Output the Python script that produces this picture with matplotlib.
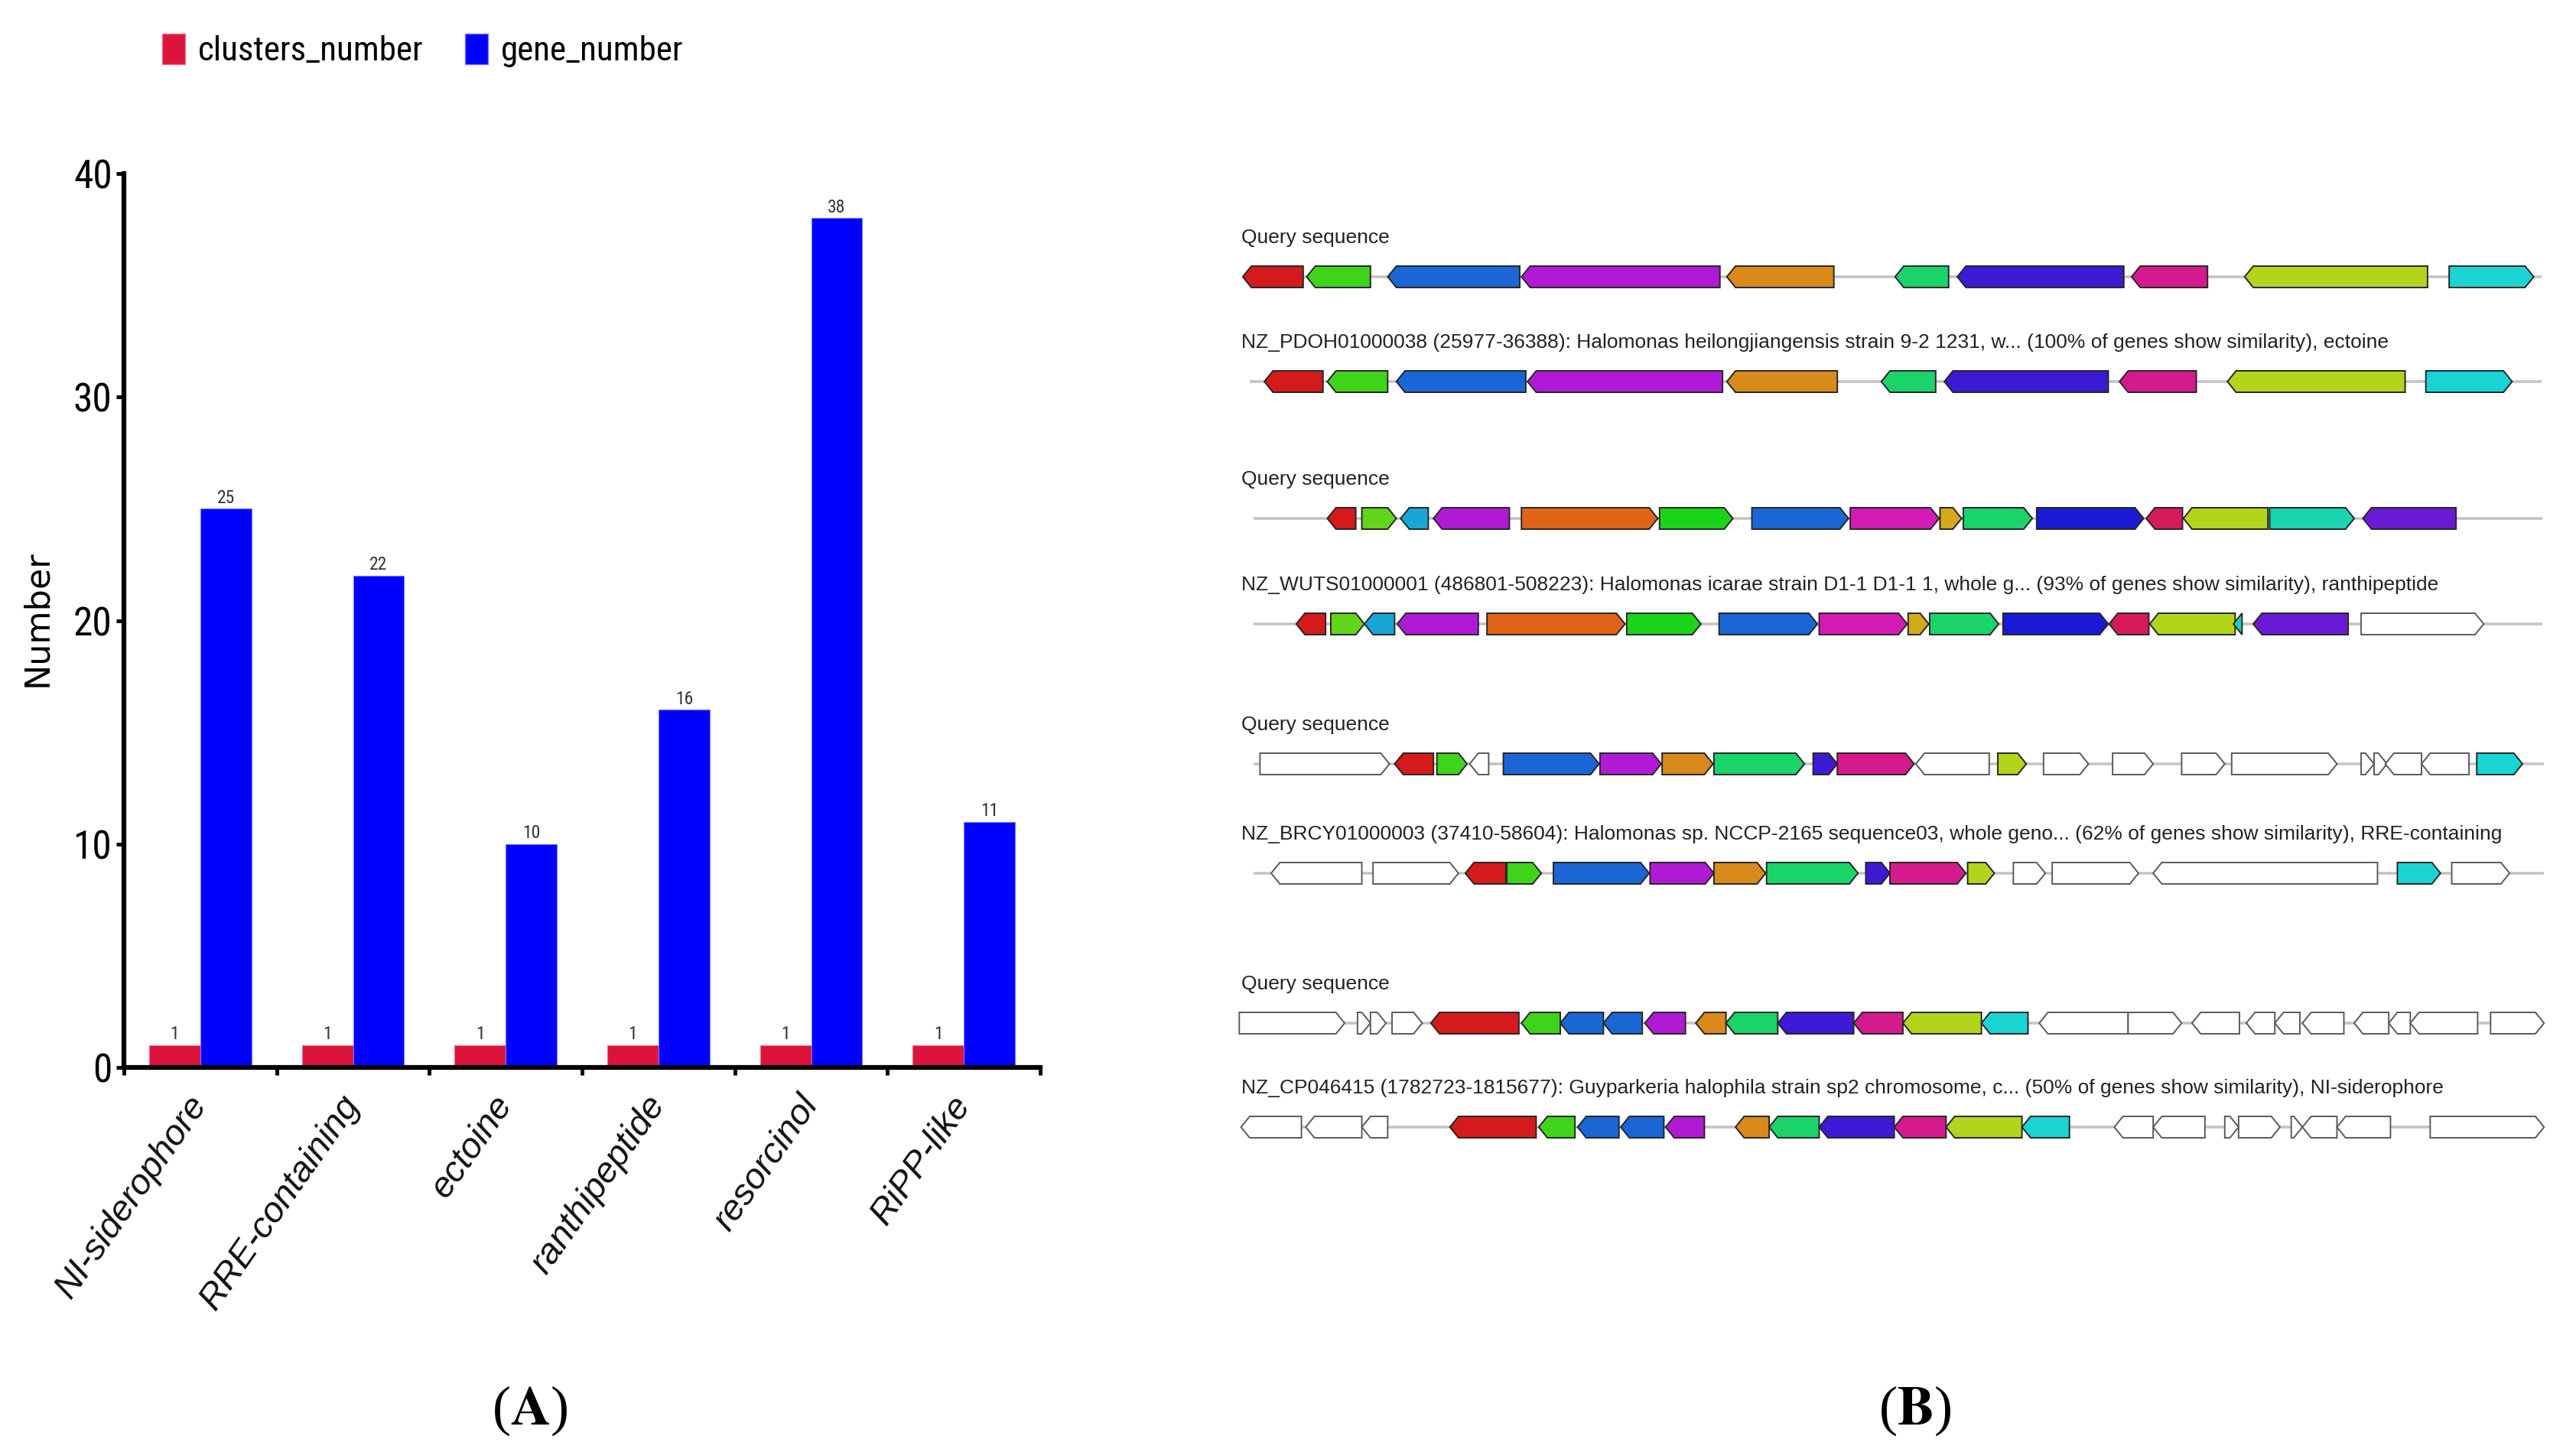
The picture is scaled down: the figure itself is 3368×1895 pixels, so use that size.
import matplotlib
matplotlib.use("Agg")
import matplotlib.pyplot as plt
import numpy as np
from matplotlib.patches import Polygon, Patch
from matplotlib import font_manager
from matplotlib.font_manager import FontProperties

""" Panel A data """
categories = ["NI-siderophore", "RRE-containing", "ectoine", "ranthipeptide", "resorcinol", "RiPP-like"]
clusters_number = [1, 1, 1, 1, 1, 1]
gene_number = [25, 22, 10, 16, 38, 11]

""" Panel B data: (start, end, strand, homology group) along each track, '-' = no hit """
titles = [
    "Query sequence",
    "NZ_PDOH01000038 (25977-36388): Halomonas heilongjiangensis strain 9-2 1231, w... (100% of genes show similarity), ectoine",
    "Query sequence",
    "NZ_WUTS01000001 (486801-508223): Halomonas icarae strain D1-1 D1-1 1, whole g... (93% of genes show similarity), ranthipeptide",
    "Query sequence",
    "NZ_BRCY01000003 (37410-58604): Halomonas sp. NCCP-2165 sequence03, whole geno... (62% of genes show similarity), RRE-containing",
    "Query sequence",
    "NZ_CP046415 (1782723-1815677): Guyparkeria halophila strain sp2 chromosome, c... (50% of genes show similarity), NI-siderophore",
]
spans = [(22, 1527), (30, 1527), (35, 1528), (35, 1528), (35, 1530), (35, 1530), (18, 1530), (20, 1530)]

query_ectoine = [(22, 92, -1, 'A'), (96, 170, -1, 'B'), (190, 343, -1, 'C'), (345, 575, -1, 'D'),
                 (583, 707, -1, 'E'), (778, 840, -1, 'F'), (850, 1043, -1, 'G'), (1052, 1140, -1, 'H'),
                 (1183, 1395, -1, 'I'), (1420, 1518, 1, 'J')]
hit_ectoine = [(47, 115, -1, 'A'), (120, 190, -1, 'B'), (200, 350, -1, 'C'), (352, 578, -1, 'D'),
               (583, 711, -1, 'E'), (762, 825, -1, 'F'), (835, 1025, -1, 'G'), (1038, 1127, -1, 'H'),
               (1163, 1369, -1, 'I'), (1393, 1493, 1, 'J')]
query_ranthi = [(120, 153, -1, 'A'), (160, 200, 1, 'L'), (205, 237, -1, 'M'), (243, 331, -1, 'D'),
                (345, 503, 1, 'O'), (505, 590, 1, 'P'), (612, 724, 1, 'C'), (726, 829, 1, 'R'),
                (830, 855, 1, 'S'), (857, 937, 1, 'F'), (942, 1066, 1, 'U'), (1069, 1111, -1, 'V'),
                (1112, 1210, -1, 'I'), (1212, 1310, 1, 'X'), (1320, 1428, -1, 'Y')]
hit_ranthi = [(84, 118, -1, 'A'), (124, 163, 1, 'L'), (163, 198, -1, 'M'), (201, 295, -1, 'D'),
              (305, 465, 1, 'O'), (467, 553, 1, 'P'), (574, 688, 1, 'C'), (690, 792, 1, 'R'),
              (793, 817, 1, 'S'), (818, 898, 1, 'F'), (903, 1025, 1, 'U'), (1026, 1072, -1, 'V'),
              (1073, 1172, -1, 'I'), (1170, 1180, -1, 'X'), (1193, 1303, -1, 'Y'), (1318, 1460, 1, '-')]
query_rre = [(42, 192, 1, '-'), (198, 243, -1, 'A'), (247, 282, 1, 'B'), (285, 307, -1, '-'),
             (324, 435, 1, 'C'), (436, 507, 1, 'D'), (508, 567, 1, 'E'), (568, 673, 1, 'F'),
             (683, 711, 1, 'G'), (711, 800, 1, 'H'), (802, 887, -1, '-'), (897, 930, 1, 'I'),
             (950, 1002, 1, '-'), (1030, 1077, 1, '-'), (1110, 1160, 1, '-'), (1168, 1290, 1, '-'),
             (1318, 1333, 1, '-'), (1333, 1348, 1, '-'), (1346, 1388, -1, '-'), (1388, 1443, -1, '-'),
             (1452, 1505, 1, 'J')]
hit_rre = [(55, 160, -1, '-'), (173, 272, 1, '-'), (280, 327, -1, 'A'), (328, 368, 1, 'B'),
           (382, 493, 1, 'C'), (494, 568, 1, 'D'), (568, 628, 1, 'E'), (629, 735, 1, 'F'),
           (744, 772, 1, 'G'), (772, 860, 1, 'H'), (862, 893, 1, 'I'), (915, 952, 1, '-'),
           (960, 1060, 1, '-'), (1077, 1337, -1, '-'), (1360, 1410, 1, 'J'), (1423, 1490, 1, '-')]
query_nis = [(18, 140, 1, '-'), (155, 170, 1, '-'), (170, 188, 1, '-'), (195, 230, 1, '-'),
             (240, 342, -1, 'A'), (345, 390, -1, 'B'), (390, 440, -1, 'C'), (440, 485, -1, 'C'),
             (488, 535, -1, 'D'), (547, 582, -1, 'E'), (582, 642, -1, 'F'), (642, 730, -1, 'G'),
             (730, 787, -1, 'H'), (787, 878, -1, 'I'), (878, 932, -1, 'J'), (945, 1048, -1, '-'),
             (1048, 1110, 1, '-'), (1122, 1177, -1, '-'), (1185, 1218, -1, '-'), (1218, 1247, -1, '-'),
             (1250, 1298, -1, '-'), (1310, 1350, -1, '-'), (1350, 1375, -1, '-'), (1375, 1453, -1, '-'),
             (1468, 1530, 1, '-')]
hit_nis = [(20, 90, -1, '-'), (95, 160, -1, '-'), (160, 190, -1, '-'), (262, 362, -1, 'A'),
           (365, 407, -1, 'B'), (410, 458, -1, 'C'), (460, 510, -1, 'C'), (512, 557, -1, 'D'),
           (593, 632, -1, 'E'), (632, 690, -1, 'F'), (690, 777, -1, 'G'), (777, 837, -1, 'H'),
           (837, 925, -1, 'I'), (925, 980, -1, 'J'), (1032, 1077, -1, '-'), (1077, 1137, -1, '-'),
           (1160, 1176, 1, '-'), (1176, 1224, 1, '-'), (1237, 1250, 1, '-'), (1250, 1290, -1, '-'),
           (1290, 1352, -1, '-'), (1398, 1530, 1, '-')]
tracks = [query_ectoine, hit_ectoine, query_ranthi, hit_ranthi, query_rre, hit_rre, query_nis, hit_nis]

""" Styles """
group_colours = {
    'A': '#d41a1a', 'B': '#3fd41a', 'C': '#1a66d4', 'D': '#b01ad4', 'E': '#d98a1a',
    'F': '#1ad46a', 'G': '#3d1ad4', 'H': '#d41a8c', 'I': '#b2d41a', 'J': '#1ad4d4',
    'L': '#62d41a', 'M': '#1aa6d4', 'O': '#df6418', 'P': '#1ad41a', 'R': '#d41ab4',
    'S': '#d4a81a', 'U': '#1a1ad4', 'V': '#d41a5a', 'X': '#1ad4b0', 'Y': '#6a1ad4',
    '-': '#ffffff',
}


def pick_narrow():
    fonts = font_manager.fontManager.ttflist
    names = {f.name for f in fonts}
    for fam in ['Liberation Sans Narrow', 'Roboto Condensed', 'Open Sans Condensed',
                'DejaVu Sans Condensed', 'Noto Sans Condensed', 'Arial Narrow']:
        if fam in names:
            return {'family': fam}, 1.0
    for f in fonts:
        if f.style == 'normal' and 'condensed' in str(f.stretch) and f.name in (
                'DejaVu Sans', 'Noto Sans', 'Roboto', 'Open Sans', 'Liberation Sans', 'Inter', 'Lato'):
            return {'family': f.name, 'stretch': f.stretch}, 1.0
    return {'family': 'Liberation Sans'}, 0.86


narrow_kw, narrow_scale = pick_narrow()


def narrow(size):
    return FontProperties(size=size * narrow_scale, **narrow_kw)


plt.rcParams['mathtext.fontset'] = 'stix'

W, H = 3368, 1895
figure = plt.figure(figsize=(W / 100, H / 100), dpi=100)

""" Panel A """
axis_a = figure.add_axes([162 / W, 1 - 1396 / H, (1360 - 162) / W, (1396 - 227) / H])
x = np.arange(len(categories))
bw = 0.335
bars_c = axis_a.bar(x - bw / 2, clusters_number, bw, color='#dc143c', edgecolor='#ee7088', linewidth=0.8)
bars_g = axis_a.bar(x + bw / 2, gene_number, bw, color='#0000ff', edgecolor='#7878ff', linewidth=0.8)
for bars in (bars_c, bars_g):
    axis_a.bar_label(bars, padding=2, color='#333333', fontproperties=narrow(17))

axis_a.set_xlim(-0.5, 5.5)
axis_a.set_ylim(0, 40)
for side in ('top', 'right'):
    axis_a.spines[side].set_visible(False)
for side in ('left', 'bottom'):
    axis_a.spines[side].set_linewidth(4.5)
axis_a.set_yticks([0, 10, 20, 30, 40])
axis_a.tick_params(axis='y', length=7, width=3.5, pad=4)
for lab in axis_a.get_yticklabels():
    lab.set_fontproperties(narrow(37))
axis_a.set_xticks(x)
axis_a.set_xticklabels(categories, rotation=55, ha='right', va='center', rotation_mode='anchor',
                       fontstyle='italic', fontsize=34, family='Liberation Sans', color='#111111')
axis_a.tick_params(axis='x', which='major', length=0, pad=30)
axis_a.set_xticks(np.arange(-0.5, 6, 1), minor=True)
axis_a.tick_params(axis='x', which='minor', length=7, width=3.5, direction='out')

figure.text(49 / W, 1 - 809 / H, "Number", rotation=90, ha='center', va='center',
            fontsize=32, family='DejaVu Sans')

handles = [Patch(facecolor='#dc143c', edgecolor='#ee7088'), Patch(facecolor='#0000ff', edgecolor='#7878ff')]
leg = figure.legend(handles, ["clusters_number", "gene_number"], loc='center left',
                    bbox_to_anchor=(212 / W, 1 - 66 / H), ncol=2, frameon=False,
                    borderpad=0, borderaxespad=0, handlelength=0.66, handleheight=1.0,
                    handletextpad=0.38, columnspacing=1.2, prop=narrow(32.5))

figure.text(693 / W, 1 - 1845 / H, r"($\mathbf{A}$)", ha='center', va='center',
            fontsize=52, family='Liberation Serif')
figure.text(2504 / W, 1 - 1845 / H, r"($\mathbf{B}$)", ha='center', va='center',
            fontsize=52, family='Liberation Serif')

""" Panel B """
axis_b = figure.add_axes([1600 / W, 1 - 1550 / H, 1768 / W, 1300 / H])
axis_b.set_xlim(0, 1567)
axis_b.set_ylim(1550, 250)
axis_b.axis('off')

track_y = [362, 499, 678, 816, 999, 1142, 1338, 1474]
half_h = 14
head = 10

for row, genes in enumerate(tracks):
    y = track_y[row]
    axis_b.text(20, y - 51, titles[row], ha='left', va='center', fontsize=19,
                family='Liberation Sans', color='#222222')
    axis_b.plot(spans[row], [y, y], color='#c4c4c4', linewidth=2.6, zorder=1, solid_capstyle='butt')
    for start, end, strand, group in genes:
        hl = min(head, end - start)
        if strand > 0:
            pts = [(start, y - half_h), (end - hl, y - half_h), (end, y),
                   (end - hl, y + half_h), (start, y + half_h)]
        else:
            pts = [(end, y - half_h), (start + hl, y - half_h), (start, y),
                   (start + hl, y + half_h), (end, y + half_h)]
        edge = '#5a5a5a' if group == '-' else '#262626'
        axis_b.add_patch(Polygon(pts, closed=True, facecolor=group_colours[group],
                                 edgecolor=edge, linewidth=1.4, zorder=2))

figure.savefig("out.png", dpi=100)
